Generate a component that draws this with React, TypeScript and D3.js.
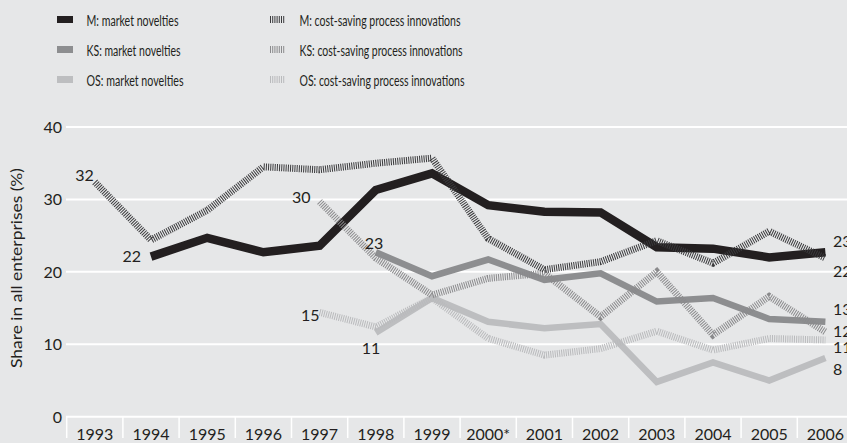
import React from "react";
import * as d3 from "d3";

const years = ["1993","1994","1995","1996","1997","1998","1999","2000*","2001","2002","2003","2004","2005","2006"];
const mMarket = [null, 22.1, 24.7, 22.7, 23.6, 31.3, 33.6, 29.2, 28.3, 28.2, 23.4, 23.2, 22.0, 22.7];
const ksMarket = [null, null, null, null, null, 22.7, 19.4, 21.7, 18.9, 19.8, 15.9, 16.4, 13.5, 13.1];
const osMarket = [null, null, null, null, null, 11.6, 16.4, 13.1, 12.2, 12.8, 4.8, 7.5, 5.0, 8.1];
const mCost = [32.4, 24.4, 28.5, 34.5, 34.1, 35.0, 35.7, 24.6, 20.3, 21.4, 24.3, 21.2, 25.6, 21.9];
const ksCost = [null, null, null, null, 29.7, 21.9, 16.8, 19.1, 19.8, 13.8, 20.0, 11.3, 16.6, 11.7];
const osCost = [null, null, null, null, 14.4, 12.4, 16.4, 10.8, 8.5, 9.4, 11.8, 9.2, 10.8, 10.6];
const yTicks = [0, 10, 20, 30, 40];

const legendLeft = ["M: market novelties", "KS: market novelties", "OS: market novelties"];
const legendRight = ["M: cost-saving process innovations", "KS: cost-saving process innovations", "OS: cost-saving process innovations"];

const startLabels = [
  { text: "32", series: "mCost", idx: 0 },
  { text: "22", series: "mMarket", idx: 1 },
  { text: "30", series: "ksCost", idx: 4 },
  { text: "23", series: "ksMarket", idx: 5 },
  { text: "15", series: "osCost", idx: 4 },
  { text: "11", series: "osMarket", idx: 5 },
];
const endLabels = ["23", "22", "13", "12", "11", "8"];

const BG = "#e6e7e8";
const INK = "#231f20";
const FONT = "Lato, 'Open Sans', sans-serif";

export default function App() {
  const W = 847, H = 443;
  const x = d3.scaleBand<string>().domain(years).range([66.7, 66.7 + 14 * 56.2]).padding(0);
  const cx = (i: number) => (x(years[i]) as number) + x.bandwidth() / 2;
  const y = d3.scaleLinear().domain([0, 40]).range([416.7, 127]);

  const line = d3.line<number | null>()
    .defined((d) => d != null)
    .x((_, i) => cx(i))
    .y((d) => y(d as number))
    .curve(d3.curveLinear);

  const solid = [
    { data: osMarket, color: "#bdbec0", w: 6.5 },
    { data: ksMarket, color: "#8d8e90", w: 6.5 },
    { data: mMarket, color: INK, w: 8.5 },
  ];
  const hatched = [
    { data: osCost, color: "#b9babc", w: 7 },
    { data: ksCost, color: "#8a8a8c", w: 7 },
    { data: mCost, color: "#3a3a3c", w: 7 },
  ];

  const seriesMap: Record<string, (number | null)[]> = { mMarket, ksMarket, osMarket, mCost, ksCost, osCost };
  const startPos: Record<string, { dx: number; dy: number; anchor: string }> = {
    mCost: { dx: -1, dy: -1, anchor: "end" },
    mMarket: { dx: -10, dy: 5, anchor: "end" },
    ksCost: { dx: -9, dy: 1, anchor: "end" },
    ksMarket: { dx: -11, dy: -3, anchor: "start" },
    osCost: { dx: 0, dy: 9, anchor: "end" },
    osMarket: { dx: -14, dy: 21, anchor: "start" },
  };
  const endBaselines = [247, 277, 315, 337, 353, 375];
  const leftLens = [92, 94, 97];
  const rightLens = [161, 163, 165];

  return (
    <svg width={W} height={H} style={{ position: "fixed", left: 0, top: 0 }} fontFamily={FONT}>
      <rect x={0} y={0} width={W} height={H} fill={BG} />
      {/* Legend */}
      {legendLeft.map((t, i) => (
        <g key={"ll" + i}>
          <rect x={57} y={16 + i * 30} width={16} height={7}
            fill={[INK, "#8d8e90", "#bdbec0"][i]} />
          <text x={86.5} y={25.5 + i * 30} fontSize={14.5} fill={INK}
            textLength={leftLens[i]} lengthAdjust="spacingAndGlyphs">{t}</text>
        </g>
      ))}
      {legendRight.map((t, i) => (
        <g key={"lr" + i}>
          <line x1={270} x2={285} y1={19.5 + i * 30} y2={19.5 + i * 30}
            stroke={["#3a3a3c", "#8a8a8c", "#b9babc"][i]} strokeWidth={7} strokeDasharray="1 1.2" />
          <text x={299.5} y={25.5 + i * 30} fontSize={14.5} fill={INK}
            textLength={rightLens[i]} lengthAdjust="spacingAndGlyphs">{t}</text>
        </g>
      ))}
      {/* Grid */}
      {yTicks.map((t) => (
        <g key={"g" + t}>
          <line x1={66} x2={W} y1={y(t)} y2={y(t)} stroke="#ffffff" strokeWidth={2} />
          <text x={62} y={y(t) + 6} fontSize={16} textAnchor="end" fill={INK}>{t}</text>
        </g>
      ))}
      {years.map((yr) => (
        <line key={"s" + yr} x1={x(yr) as number} x2={x(yr) as number} y1={417} y2={438}
          stroke="#ffffff" strokeWidth={1.5} />
      ))}
      {years.map((yr, i) => (
        <text key={"xl" + yr} x={cx(i)} y={440} fontSize={16} textAnchor="middle" fill={INK}>{yr}</text>
      ))}
      <text transform={`translate(22,268) rotate(-90)`} fontSize={16} textAnchor="middle" fill={INK}
        textLength={200} lengthAdjust="spacingAndGlyphs">
        Share in all enterprises (%)
      </text>
      {/* Lines */}
      {solid.map((s, i) => (
        <path key={"sl" + i} d={line(s.data) || ""} fill="none" stroke={s.color}
          strokeWidth={s.w} strokeLinejoin="miter" strokeLinecap="butt" />
      ))}
      {hatched.map((s, i) => (
        <path key={"hl" + i} d={line(s.data) || ""} fill="none" stroke={s.color}
          strokeWidth={s.w} strokeDasharray="1 1.2" strokeLinejoin="miter" strokeLinecap="butt" />
      ))}
      {/* Start labels */}
      {startLabels.map((l) => {
        const v = seriesMap[l.series][l.idx] as number;
        const p = startPos[l.series];
        return (
          <text key={"st" + l.series} x={cx(l.idx) + p.dx} y={y(v) + p.dy} fontSize={16}
            textAnchor={p.anchor} fill={INK}>{l.text}</text>
        );
      })}
      {endLabels.map((t, i) => (
        <text key={"el" + i} x={833} y={endBaselines[i]} fontSize={16} fill={INK}>{t}</text>
      ))}
    </svg>
  );
}
